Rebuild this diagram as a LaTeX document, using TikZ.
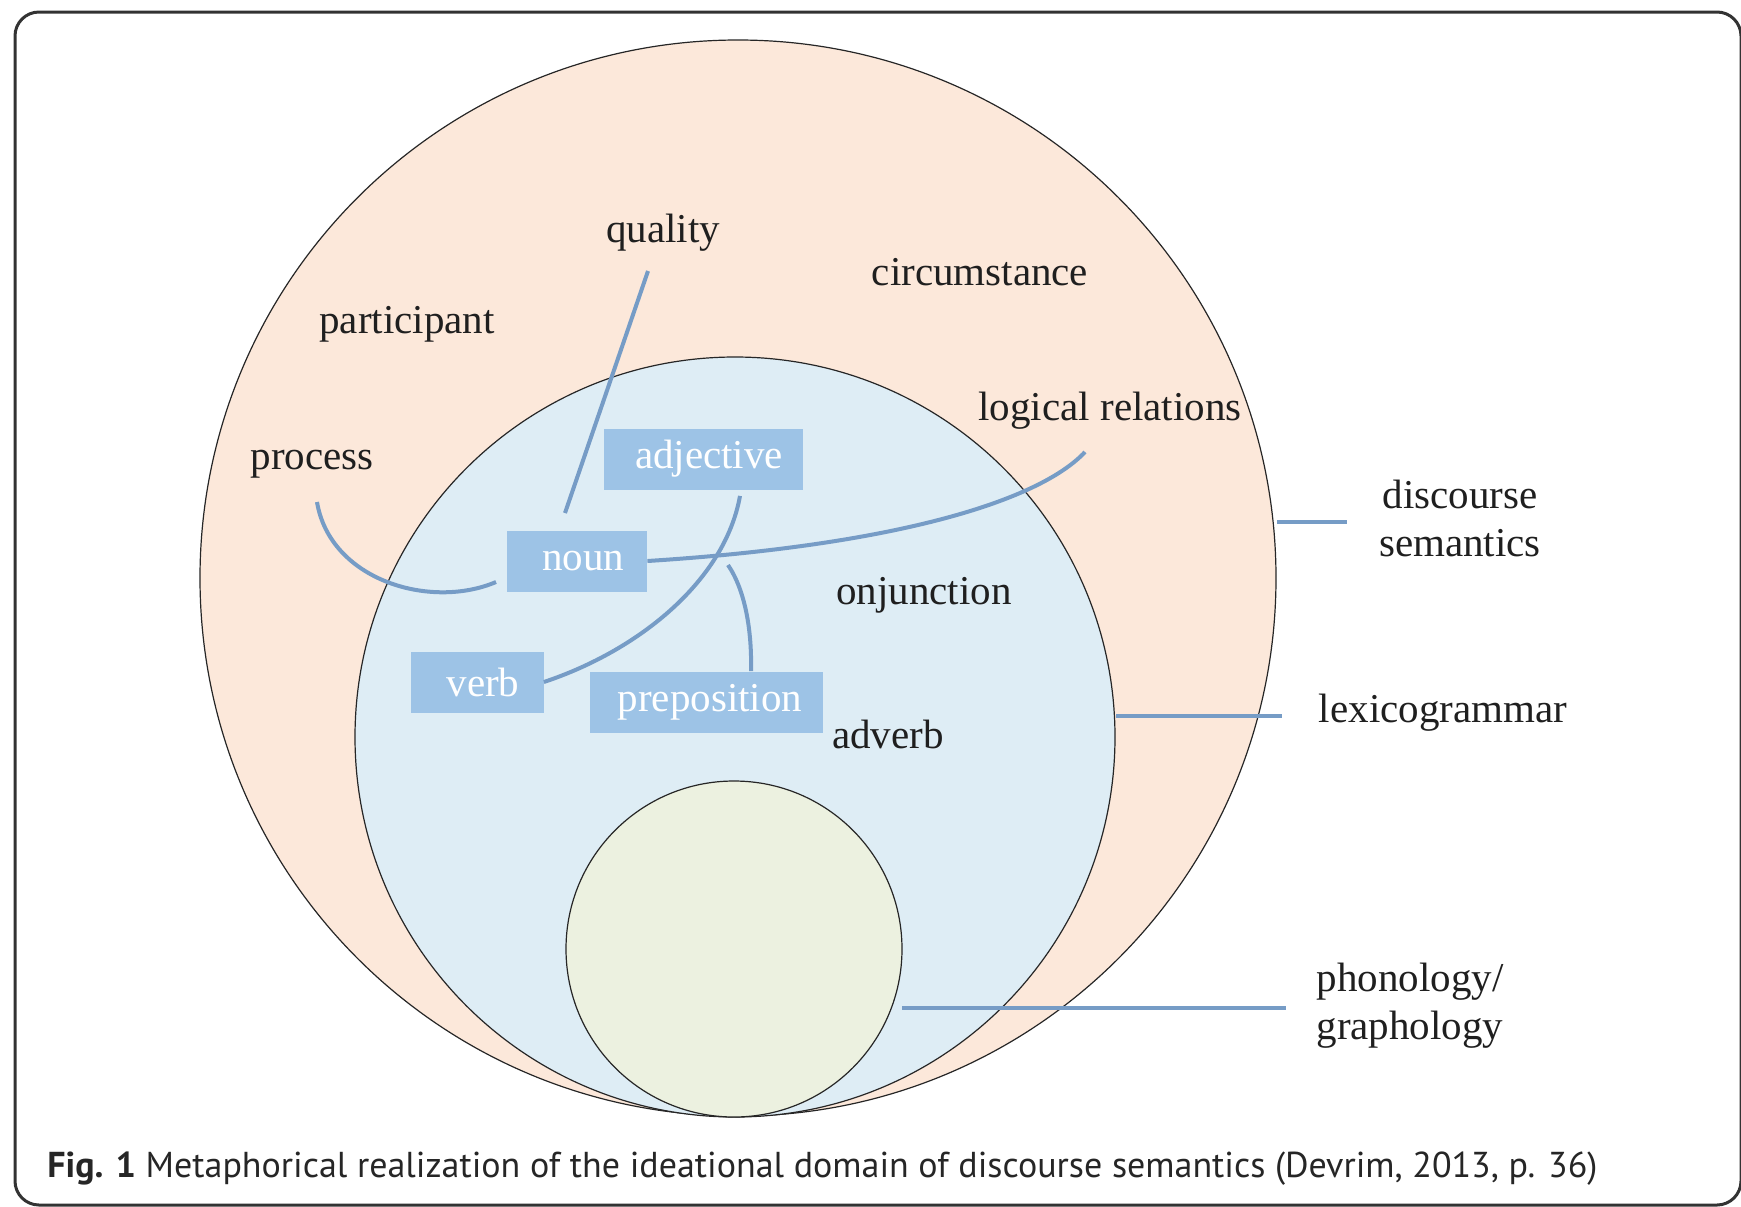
\documentclass[tikz,border=0pt]{standalone}
\usepackage{fontspec}
\setmainfont{Liberation Serif}
\newfontfamily\capfont{PT Sans}
\begin{document}
\begin{tikzpicture}[x=0.5pt,y=-0.5pt,
  lbl/.style={font=\fontsize{20.5}{24}\selectfont, text=black!88, inner sep=0pt, align=center},
  wbox/.style={fill=boxblue, text=white, font=\fontsize{20.5}{24}\selectfont, inner sep=0pt, minimum height=30.5pt},
  conn/.style={draw=linkblue, line width=2pt},
  ring/.style={draw=black!85, line width=0.6pt}]
\definecolor{peach}{RGB}{252,232,218}
\definecolor{paleblue}{RGB}{222,237,245}
\definecolor{palegreen}{RGB}{236,241,224}
\definecolor{boxblue}{RGB}{157,195,230}
\definecolor{linkblue}{RGB}{118,156,198}
\useasboundingbox (0,0) rectangle (1741,1206);
\begin{scope}
\clip (0,0) rectangle (1741,1206);
\draw[black!80, line width=1.5pt, rounded corners=12pt] (15,12) rectangle (1741,1205);
\end{scope}
% circles
\path[ring, fill=peach] (738,578) circle[radius=538];
\path[ring, fill=paleblue] (735,737) circle[radius=380];
\path[ring, fill=palegreen] (734,949) circle[radius=168];
% boxes
\node[wbox, minimum width=99.5pt] (adj) at (703,459) {\hspace{6pt}adjective};
\node[wbox, minimum width=70pt] (noun) at (577,561) {\hspace{6pt}noun};
\node[wbox, minimum width=66.5pt] (verb) at (477,682) {\hspace{6pt}verb};
\node[wbox, minimum width=116.5pt] (prep) at (706,702) {\hspace{4pt}preposition};
% labels
\node[lbl] (quality) at (663,233) {quality};
\node[lbl] (circ) at (980,272) {circumstance};
\node[lbl] (part) at (407,324) {participant};
\node[lbl] (logic) at (1110,411) {logical relations};
\node[lbl] (proc) at (312,464) {process};
\node[lbl] (disc) at (1460,518) {discourse\\semantics};
\node[lbl] (onj) at (924,595) {onjunction};
\node[lbl] (lexi) at (1443,713) {lexicogrammar};
\node[lbl] (adv) at (888,734) {adverb};
\node[lbl] (phon) at (1410,1006) {phonology/\\graphology};
% connector end points
\coordinate (q1) at (648,271);
\coordinate (q2) at (565,513);
\coordinate (p1) at (317,502);
\coordinate (p2) at (496,582);
\coordinate (lr) at (1085,452);
\coordinate (nj) at (728,565);
\coordinate (d1) at (1277,522);
\coordinate (d2) at (1347,522);
\coordinate (l1) at (1116,716);
\coordinate (l2) at (1282,716);
\coordinate (g1) at (902,1008);
\coordinate (g2) at (1286,1008);
% connectors
\draw[conn] (q1) -- (q2);
\draw[conn] (p1) .. controls (330,580) and (430,610) .. (p2);
\draw[conn] (adj.south) ++(37,6) .. controls (725,580) and (640,650) .. (verb.east);
\draw[conn] (noun.east) .. controls (900,545) and (1040,500) .. (lr);
\draw[conn] (nj) .. controls (745,590) and (752,630) .. (prep.north -| 751,0);
\draw[conn] (d1) -- (d2);
\draw[conn] (l1) -- (l2);
\draw[conn] (g1) -- (g2);
% caption
\node[anchor=west, inner sep=0pt, text=black!85, font=\capfont\fontsize{18}{21}\selectfont] (cap) at (47,1169) {\textbf{Fig. 1} Metaphorical realization of the ideational domain of discourse semantics (Devrim, 2013, p. 36)};
\end{tikzpicture}
\end{document}
